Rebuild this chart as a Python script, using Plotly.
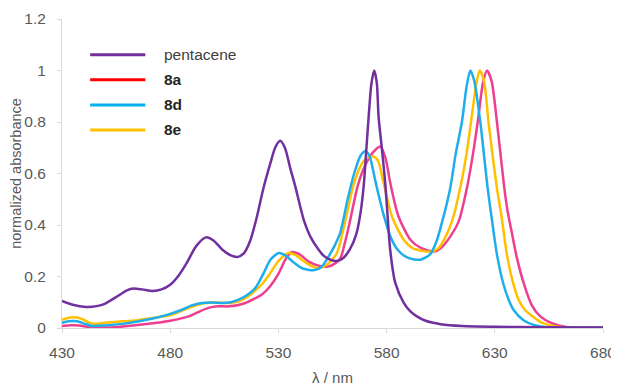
import plotly.graph_objects as go

# ---------------- data ----------------
pentacene_x = [430, 435, 441, 446, 450, 455, 460, 463, 467, 472, 476, 480, 484, 488, 492, 496.5, 500, 504, 508, 511,
               514, 517, 520, 523, 526.3, 528.5, 530.8, 533, 535.5, 537.8, 541.7, 544.7, 548.6, 551, 554, 557, 560,
               563, 566, 568, 569.5, 570.6, 571.7, 573, 574.3, 575.5, 576.3, 577.9, 579.4, 580.5, 581.7, 584, 588,
               591, 594, 598, 605, 615, 630, 650, 680]
pentacene_y = [0.105, 0.09, 0.082, 0.085, 0.095, 0.12, 0.146, 0.153, 0.150, 0.144, 0.150, 0.168, 0.205, 0.258, 0.318,
               0.352, 0.340, 0.305, 0.282, 0.276, 0.29, 0.34, 0.43, 0.54, 0.64, 0.70, 0.727, 0.70, 0.62, 0.55, 0.42,
               0.356, 0.304, 0.28, 0.265, 0.26, 0.272, 0.305, 0.365, 0.45, 0.56, 0.69, 0.82, 0.95, 1.0, 0.95, 0.82, 0.69,
               0.56, 0.43, 0.30, 0.175, 0.097, 0.065, 0.045, 0.028, 0.015, 0.008, 0.005, 0.003, 0.002]

d8_x = [430, 433, 437, 440, 444, 450, 458, 465, 473, 480, 485.4, 490, 494.7, 499, 503.9, 508, 511.6, 515, 519.3, 523,
        526.3, 530.1, 533, 537, 541, 546.3, 550, 553, 556, 558.6, 562, 565, 568, 570.1, 572, 575, 578.6, 582, 585.5,
        590, 595.6, 600, 603, 605.6, 609.4, 612, 614.8, 617, 618.7, 620.5, 623.3, 626.7, 629, 631, 634, 636.4, 638.7,
        643.3, 648, 654, 665, 680]
d8_y = [0.020, 0.026, 0.026, 0.018, 0.008, 0.010, 0.016, 0.025, 0.039, 0.055, 0.071, 0.088, 0.097, 0.099, 0.097,
        0.100, 0.11, 0.125, 0.155, 0.21, 0.265, 0.291, 0.283, 0.255, 0.232, 0.224, 0.238, 0.275, 0.32, 0.37, 0.50,
        0.60, 0.67, 0.686, 0.67, 0.563, 0.44, 0.35, 0.30, 0.272, 0.265, 0.285, 0.335, 0.41, 0.543, 0.68, 0.80, 0.94,
        1.0, 0.96, 0.80, 0.543, 0.40, 0.285, 0.17, 0.11, 0.07, 0.03, 0.012, 0.003, 0.001, 0.001]

e8_x = [430, 433, 437, 440, 444, 450, 458, 465, 473, 480, 485.4, 490, 496.1, 501, 507, 511, 514.7, 518.5, 522.4, 526,
        530, 534.7, 538, 542, 546, 549.4, 553, 557, 560.5, 564.5, 568, 571, 574, 576, 578.6, 582.5, 587.9, 592, 596,
        601, 604, 607, 610.2, 614, 617, 619, 621.5, 623, 625, 627.1, 631, 633, 635.6, 638, 641, 644, 647.5, 652, 658,
        665, 680]
e8_y = [0.032, 0.040, 0.041, 0.032, 0.017, 0.020, 0.026, 0.030, 0.040, 0.050, 0.067, 0.082, 0.097, 0.099, 0.097,
        0.102, 0.116, 0.14, 0.17, 0.21, 0.26, 0.291, 0.283, 0.258, 0.238, 0.233, 0.25, 0.29, 0.40, 0.55, 0.63, 0.66,
        0.666, 0.65, 0.563, 0.433, 0.343, 0.31, 0.30, 0.297, 0.31, 0.35, 0.414, 0.543, 0.68, 0.80, 0.95, 1.0, 0.96,
        0.80, 0.543, 0.44, 0.285, 0.19, 0.11, 0.07, 0.045, 0.02, 0.006, 0.002, 0.001]

a8_x = [430, 434, 438, 442, 446, 452, 458, 465, 473, 480, 488.5, 493, 497.7, 502, 507, 511, 514.7, 518.5, 522.4, 526,
        530, 533.5, 536.3, 540, 544, 549, 553.2, 556, 558.6, 561, 563.2, 566.6, 570, 573.5, 577.1, 579.5, 581.7,
        585.5, 591, 596, 602, 605, 609, 613.3, 617.1, 620, 622.1, 624.5, 626.4, 628.5, 631, 634.4, 636, 637.9, 640,
        643.5, 647, 651, 656, 663, 680]
a8_y = [0.008, 0.011, 0.010, 0.004, 0.002, 0.002, 0.006, 0.012, 0.019, 0.028, 0.045, 0.062, 0.078, 0.084, 0.084,
        0.088, 0.097, 0.112, 0.13, 0.16, 0.21, 0.27, 0.295, 0.285, 0.258, 0.241, 0.239, 0.25, 0.27, 0.34, 0.42,
        0.55, 0.63, 0.68, 0.705, 0.66, 0.563, 0.433, 0.343, 0.31, 0.297, 0.31, 0.35, 0.414, 0.543, 0.68, 0.80, 0.95,
        1.0, 0.96, 0.80, 0.543, 0.45, 0.369, 0.28, 0.17, 0.09, 0.045, 0.02, 0.004, 0.001]

x_ticks = [430, 480, 530, 580, 630, 680]
y_ticks = [0, 0.2, 0.4, 0.6, 0.8, 1.0, 1.2]
y_tick_text = ["0", "0.2", "0.4", "0.6", "0.8", "1", "1.2"]

legend_names = ["pentacene", "8a", "8d", "8e"]
legend_colors = ["#7030A0", "#FF0000", "#00B0F0", "#FFC000"]
legend_bold = [False, True, True, True]

# ---------------- figure ----------------
fig = go.Figure()
series = [
    ("8a", a8_x, a8_y, "#EE3F8E"),
    ("8e", e8_x, e8_y, "#FFC000"),
    ("8d", d8_x, d8_y, "#1EAEEB"),
    ("pentacene", pentacene_x, pentacene_y, "#7030A0"),
]
for name, xs, ys, col in series:
    fig.add_trace(go.Scatter(x=xs, y=ys, mode="lines", name=name, showlegend=False,
                             line=dict(color=col, width=2.5, shape="spline", smoothing=0.7)))

font_fam = "Liberation Sans, Arial, sans-serif"

# manual legend (Excel style)
row_y = [0.884, 0.803, 0.722, 0.641]
for i, (nm, col, bold) in enumerate(zip(legend_names, legend_colors, legend_bold)):
    fig.add_shape(type="line", xref="paper", yref="paper", x0=0.052, x1=0.154, y0=row_y[i], y1=row_y[i],
                  line=dict(color=col, width=3))
    fig.add_annotation(xref="paper", yref="paper", x=0.184, y=row_y[i], xanchor="left", yanchor="middle",
                       text=f"<b>{nm}</b>" if bold else nm, showarrow=False,
                       font=dict(family=font_fam, size=15.5,
                                 color="#262626" if bold else "#404040"))

fig.update_layout(
    width=611, height=378,
    margin=dict(l=54, r=16, t=11, b=58, autoexpand=False),
    paper_bgcolor="white", plot_bgcolor="white",
    showlegend=False,
    font=dict(family=font_fam, color="#595959"),
)
fig.update_xaxes(range=[430, 680], tickvals=x_ticks, ticktext=[str(v) for v in x_ticks],
                 showline=True, linecolor="#D9D9D9", linewidth=1, ticks="outside", ticklen=4,
                 tickcolor="#D9D9D9", showgrid=False, zeroline=False, automargin=False,
                 tickfont=dict(size=15.5, color="#595959"), ticklabelstandoff=6,
                 title=dict(text="λ / nm", font=dict(size=15, color="#595959"), standoff=13))
fig.update_yaxes(range=[0, 1.2], tickvals=y_ticks, ticktext=y_tick_text,
                 showline=True, linecolor="#D9D9D9", linewidth=1, ticks="outside", ticklen=4,
                 tickcolor="#D9D9D9", showgrid=False, zeroline=False, automargin=False,
                 tickfont=dict(size=15.5, color="#595959"), ticklabelstandoff=8,
                 title=dict(text="normalized absorbance", font=dict(size=14.5, color="#595959"), standoff=1))

fig.write_html("out.html")
